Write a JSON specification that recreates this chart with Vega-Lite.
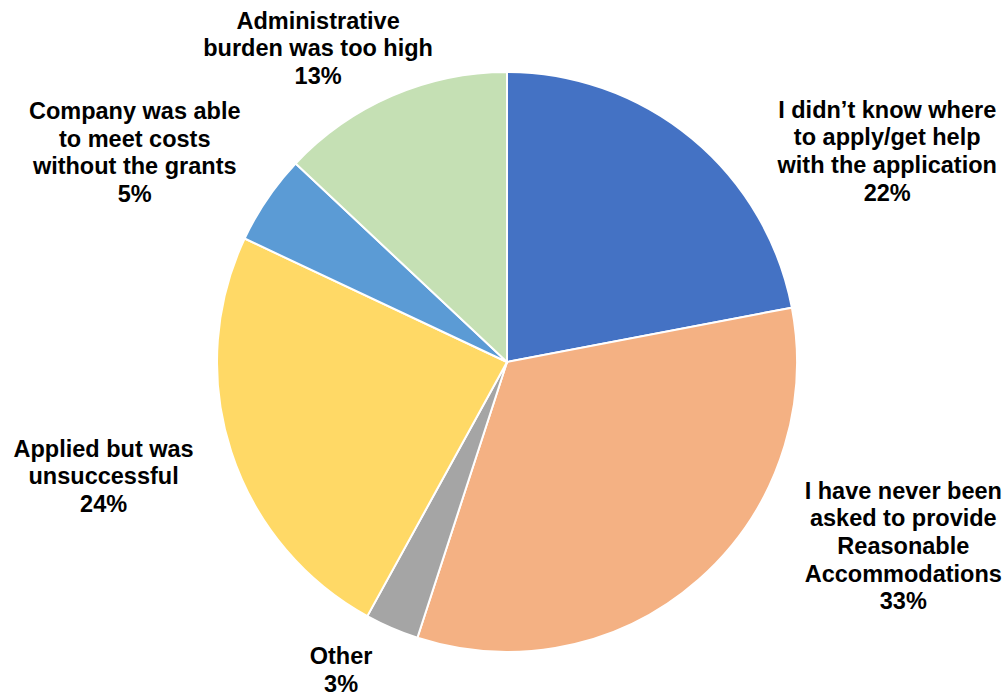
{
  "$schema": "https://vega.github.io/schema/vega-lite/v6.json",
  "autosize": "none",
  "width": 1002,
  "height": 670,
  "padding": {"left": 6, "top": 27, "right": 0, "bottom": 0},
  "background": "white",
  "config": {"view": {"stroke": null}},
  "data": {
    "values": [
      {"k": 1, "category": "I didn’t know where to apply/get help with the application", "label": "I didn’t know where\nto apply/get help\nwith the application\n22%", "value": 22},
      {"k": 2, "category": "I have never been asked to provide Reasonable Accommodations", "label": "I have never been\nasked to provide\nReasonable\nAccommodations\n33%", "value": 33},
      {"k": 3, "category": "Other", "label": "Other\n3%", "value": 3},
      {"k": 4, "category": "Applied but was unsuccessful", "label": "Applied but was\nunsuccessful\n24%", "value": 24},
      {"k": 5, "category": "Company was able to meet costs without the grants", "label": "Company was able\nto meet costs\nwithout the grants\n5%", "value": 5},
      {"k": 6, "category": "Administrative burden was too high", "label": "Administrative\nburden was too high\n13%", "value": 13}
    ]
  },
  "encoding": {
    "theta": {"field": "value", "type": "quantitative", "stack": true},
    "order": {"field": "k", "type": "quantitative"}
  },
  "layer": [
    {
      "mark": {"type": "arc", "outerRadius": 290, "stroke": "white", "strokeWidth": 2},
      "encoding": {
        "color": {
          "field": "category",
          "type": "nominal",
          "legend": null,
          "scale": {
            "domain": [
              "I didn’t know where to apply/get help with the application",
              "I have never been asked to provide Reasonable Accommodations",
              "Other",
              "Applied but was unsuccessful",
              "Company was able to meet costs without the grants",
              "Administrative burden was too high"
            ],
            "range": ["#4472C4", "#F4B183", "#A5A5A5", "#FFD966", "#5B9BD5", "#C5E0B4"]
          }
        }
      }
    },
    {
      "mark": {"type": "text", "radius": 380, "dx": 138, "dy": 41.5, "font": "Liberation Sans", "fontWeight": "bold", "fontSize": 23.5, "lineHeight": 27.7, "lineBreak": "\n", "align": "center", "baseline": "middle", "color": "black"},
      "encoding": {"text": {"condition": {"test": "datum.k === 1", "field": "label"}, "value": ""}}
    },
    {
      "mark": {"type": "text", "radius": 380, "dx": 145, "dy": -155.4, "font": "Liberation Sans", "fontWeight": "bold", "fontSize": 23.5, "lineHeight": 27.7, "lineBreak": "\n", "align": "center", "baseline": "middle", "color": "black"},
      "encoding": {"text": {"condition": {"test": "datum.k === 2", "field": "label"}, "value": ""}}
    },
    {
      "mark": {"type": "text", "radius": 380, "dx": -15, "dy": -53.9, "font": "Liberation Sans", "fontWeight": "bold", "fontSize": 23.5, "lineHeight": 27.7, "lineBreak": "\n", "align": "center", "baseline": "middle", "color": "black"},
      "encoding": {"text": {"condition": {"test": "datum.k === 3", "field": "label"}, "value": ""}}
    },
    {
      "mark": {"type": "text", "radius": 380, "dx": -42, "dy": -29.7, "font": "Liberation Sans", "fontWeight": "bold", "fontSize": 23.5, "lineHeight": 27.7, "lineBreak": "\n", "align": "center", "baseline": "middle", "color": "black"},
      "encoding": {"text": {"condition": {"test": "datum.k === 4", "field": "label"}, "value": ""}}
    },
    {
      "mark": {"type": "text", "radius": 380, "dx": -58, "dy": -36.5, "font": "Liberation Sans", "fontWeight": "bold", "fontSize": 23.5, "lineHeight": 27.7, "lineBreak": "\n", "align": "center", "baseline": "middle", "color": "black"},
      "encoding": {"text": {"condition": {"test": "datum.k === 5", "field": "label"}, "value": ""}}
    },
    {
      "mark": {"type": "text", "radius": 380, "dx": -38, "dy": 8.3, "font": "Liberation Sans", "fontWeight": "bold", "fontSize": 23.5, "lineHeight": 27.7, "lineBreak": "\n", "align": "center", "baseline": "middle", "color": "black"},
      "encoding": {"text": {"condition": {"test": "datum.k === 6", "field": "label"}, "value": ""}}
    }
  ]
}
